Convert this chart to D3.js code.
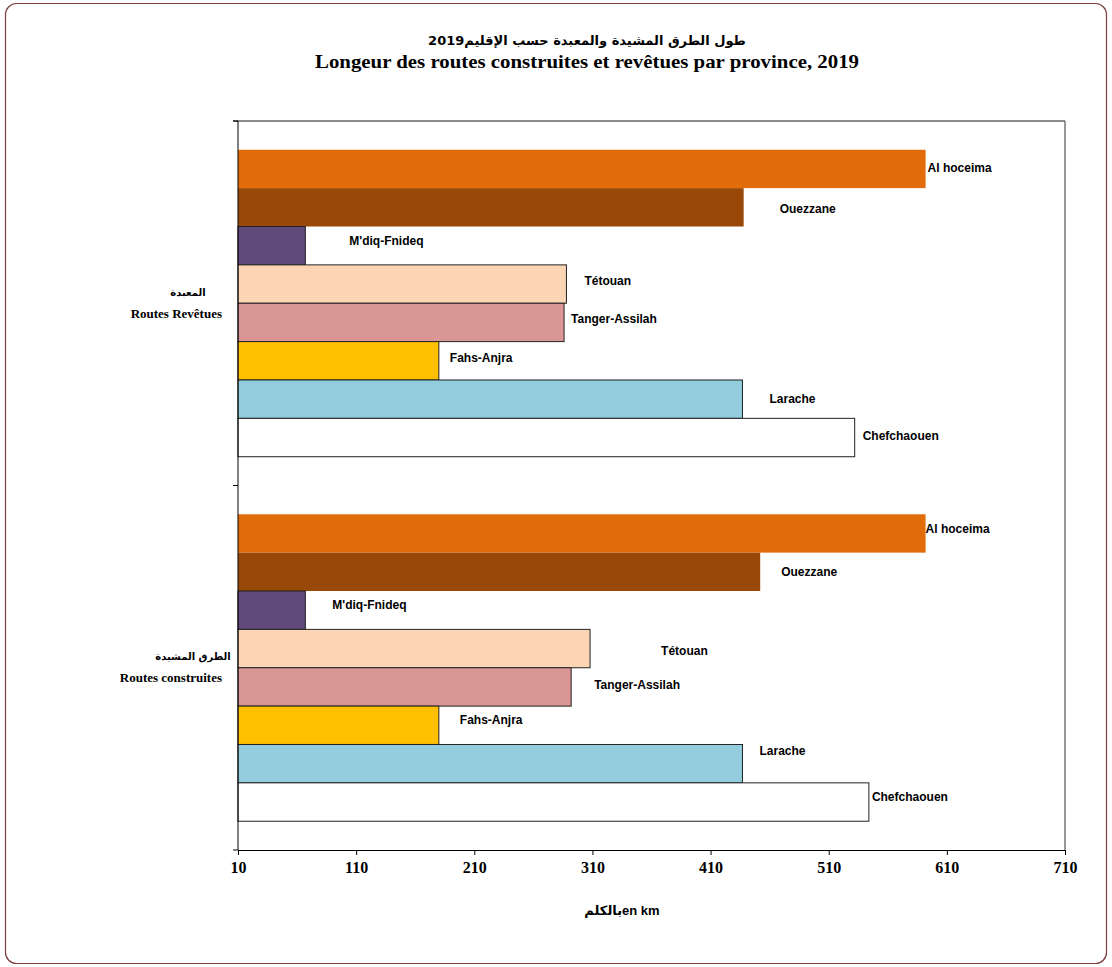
<!DOCTYPE html>
<html>
<head>
<meta charset="utf-8">
<script src="https://cdn.jsdelivr.net/npm/d3@7"></script>
<style>
  html, body { margin: 0; padding: 0; background: #fff; }
  svg { display: block; }
</style>
</head>
<body>
<svg id="chart" width="1112" height="967"></svg>
<script>
// ---- data ----
const categories = ["Routes Revêtues", "Routes construites"];
const categoriesAr = ["المعبدة", "الطرق المشيدة"];
const provinces = ["Al hoceima", "Ouezzane", "M'diq-Fnideq", "Tétouan", "Tanger-Assilah", "Fahs-Anjra", "Larache", "Chefchaouen"];
const valuesRevetues = [592, 438, 67, 288, 286, 180, 437, 532];
const valuesConstruites = [592, 452, 67, 308, 292, 180, 437, 544];
const xTicks = [10, 110, 210, 310, 410, 510, 610, 710];

// ---- styles / layout ----
const colors = ["#E36C0A", "#984807", "#604A7B", "#FCD5B5", "#D99694", "#FFC000", "#93CDDD", "#FFFFFF"];
const strokes = ["none", "none", "#222", "#222", "#222", "#222", "#222", "#222"];
// manual label offsets (px) relative to bar end / bar centre, per category
const labelOffsets = [
  [[2,-1],[36,1],[44,-5],[18,-3],[7,-4],[11,-3],[27,0],[8,-2]],
  [[0,-5],[21,0],[27,-5],[71,2],[23,-2],[21,-6],[17,-13],[3,-5]]
];

const svg = d3.select("#chart");
const W = 1112, H = 967;
const m = { left: 238, right: 1065, top: 121, bottom: 850 };

// outer frame
svg.append("rect")
  .attr("x", 5.5).attr("y", 3.5).attr("width", W - 11).attr("height", H - 7)
  .attr("rx", 11).attr("ry", 11)
  .attr("fill", "#fff").attr("stroke", "#7a3c3c").attr("stroke-width", 1.2);

// title
svg.append("text")
  .attr("x", 587).attr("y", 45)
  .attr("text-anchor", "middle")
  .attr("font-family", "'DejaVu Sans',sans-serif")
  .attr("font-weight", "bold").attr("font-size", 13)
  .attr("direction", "rtl")
  .text("طول الطرق المشيدة والمعبدة حسب الإقليم2019");
svg.append("text")
  .attr("x", 587).attr("y", 68)
  .attr("text-anchor", "middle")
  .attr("font-family", "'Liberation Serif','Times New Roman',serif")
  .attr("font-weight", "bold").attr("font-size", 19)
  .attr("textLength", 544).attr("lengthAdjust", "spacingAndGlyphs")
  .text("Longeur des routes construites et revêtues par province, 2019");

// scales
const x = d3.scaleLinear().domain([10, 710]).range([m.left, m.right]);
const y0 = d3.scaleBand().domain(categories).range([m.top, m.bottom]).padding(0);
const y1 = d3.scaleBand().domain(provinces).range([0, y0.bandwidth()]).paddingInner(0).paddingOuter(0.75);

const series = [valuesRevetues, valuesConstruites];

// plot frame (top gray, right dark)
svg.append("line").attr("x1", m.left - 5).attr("x2", m.right).attr("y1", m.top).attr("y2", m.top)
  .attr("stroke", "#8c8c8c").attr("stroke-width", 2);
svg.append("line").attr("x1", m.right).attr("x2", m.right).attr("y1", m.top).attr("y2", m.bottom)
  .attr("stroke", "#333").attr("stroke-width", 1);

// bars
categories.forEach((cat, ci) => {
  const g = svg.append("g").attr("transform", `translate(0,${y0(cat)})`);
  g.selectAll("rect").data(provinces).join("rect")
    .attr("x", x(10))
    .attr("y", p => y1(p))
    .attr("width", (p, i) => x(series[ci][i]) - x(10))
    .attr("height", y1.bandwidth())
    .attr("fill", (p, i) => colors[i])
    .attr("stroke", (p, i) => strokes[i])
    .attr("stroke-width", 1);
  g.selectAll("text.lbl").data(provinces).join("text")
    .attr("class", "lbl")
    .attr("x", (p, i) => x(series[ci][i]) + labelOffsets[ci][i][0])
    .attr("y", (p, i) => y1(p) + y1.bandwidth() / 2 + labelOffsets[ci][i][1])
    .attr("dy", "0.35em")
    .attr("font-family", "'Liberation Sans',Arial,sans-serif")
    .attr("font-weight", "bold").attr("font-size", 12)
    .attr("fill", "#000")
    .text(p => p);
});

// x axis
const xAxis = d3.axisBottom(x).tickValues(xTicks).tickSize(5).tickSizeOuter(0).tickFormat(d3.format("d"));
const gx = svg.append("g").attr("transform", `translate(0,${m.bottom})`).call(xAxis);
gx.select(".domain").attr("stroke", "#000");
gx.selectAll(".tick line").attr("stroke", "#000");
gx.selectAll(".tick text")
  .attr("y", 12)
  .attr("font-family", "'Liberation Serif','Times New Roman',serif")
  .attr("font-weight", "bold").attr("font-size", 16).attr("fill", "#000");

// y axis (line + ticks at band edges)
svg.append("line").attr("x1", m.left).attr("x2", m.left).attr("y1", m.top).attr("y2", m.bottom)
  .attr("stroke", "#000").attr("stroke-width", 1);
const edges = categories.map(c => y0(c)).concat([y0.range()[1]]);
svg.selectAll("line.ytick").data(edges).join("line")
  .attr("class", "ytick")
  .attr("x1", m.left - 5).attr("x2", m.left).attr("y1", d => d).attr("y2", d => d)
  .attr("stroke", "#000");

// category labels
const arCenters = [188, 193];
categories.forEach((cat, ci) => {
  const cy = y0(cat) + y0.bandwidth() / 2;
  svg.append("text")
    .attr("x", arCenters[ci]).attr("y", cy - 11).attr("dy", "0.35em")
    .attr("text-anchor", "middle")
    .attr("direction", "rtl")
    .attr("font-family", "'DejaVu Sans',sans-serif")
    .attr("font-weight", "bold").attr("font-size", 10)
    .text(categoriesAr[ci]);
  svg.append("text")
    .attr("x", 222).attr("y", cy + 10).attr("dy", "0.35em")
    .attr("text-anchor", "end")
    .attr("font-family", "'Liberation Serif','Times New Roman',serif")
    .attr("font-weight", "bold").attr("font-size", 13)
    .text(cat);
});

// x-axis title
svg.append("text")
  .attr("x", 622).attr("y", 910).attr("dy", "0.35em")
  .attr("text-anchor", "middle")
  .attr("font-family", "'Liberation Sans','DejaVu Sans',Arial,sans-serif")
  .attr("font-weight", "bold").attr("font-size", 13)
  .text("بالكلمen km");
</script>
</body>
</html>
